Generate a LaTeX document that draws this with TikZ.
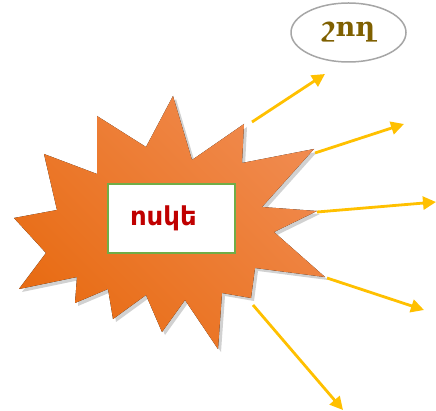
\documentclass[tikz,border=0pt]{standalone}
\usepackage{fontspec}
\newfontfamily\armsans{DejaVu Sans}
\newfontfamily\armserif{DejaVu Serif}
\usetikzlibrary{positioning,arrows.meta,shadows,shapes.geometric}
\definecolor{burstlight}{HTML}{F08A4E}
\definecolor{burstmid}{HTML}{F27C28}
\definecolor{burstdark}{HTML}{E86C14}
\definecolor{rayyellow}{HTML}{FFC000}
\definecolor{boxgreen}{HTML}{70AD47}
\definecolor{goldred}{HTML}{C00000}
\definecolor{raybrown}{HTML}{7F6000}
\definecolor{ovalgrey}{HTML}{A6A6A6}
\tikzset{
  beam/.style={draw=rayyellow,line width=2.8pt,
               -{Triangle[length=13pt,width=13pt]}},
  corebox/.style={draw=boxgreen,line width=1.6pt,fill=white,
                  minimum width=127pt,minimum height=69pt,
                  inner xsep=22pt,text width=83pt,align=left,
                  font=\armsans\fontsize{26}{30}\selectfont\bfseries,text=goldred},
  wordoval/.style={ellipse,draw=ovalgrey,line width=1.5pt,fill=white,
                   minimum width=115pt,minimum height=59pt,inner sep=0pt,
                   font=\armserif\fontsize{27}{30}\selectfont\bfseries,text=raybrown},
}

\begin{document}
\begin{tikzpicture}[x=1pt,y=-1pt]
\useasboundingbox (0,0) rectangle (436,411);

% star burst
\fill[top color=burstlight,middle color=burstmid,bottom color=burstdark,
      shading angle=-45,
      drop shadow={shadow xshift=3pt,shadow yshift=-3pt,opacity=0.3,fill=black!60}]
  (173,96) -- (192,160) -- (244,124) -- (242,163) -- (314,149) -- (262,207)
  -- (317,211) -- (274,232) -- (325,277) -- (255,268) -- (251,298) -- (222,293)
  -- (218,349) -- (185,300) -- (162,332) -- (146,295) -- (113,319) -- (108,289)
  -- (75,303) -- (77,277) -- (19,289) -- (46,253) -- (14,218) -- (57,210)
  -- (44,154) -- (97,174) -- (97,116) -- (146,147) -- cycle;

\node[corebox] (core) at (171.5,218.5) {ոսկե};
\node[wordoval] (ray) at (348.5,32.5) {\raisebox{-4pt}{շող}\hspace{10pt}};

% ray ends
\coordinate (s1) at (252,122);  \coordinate (t1) at (325,74);
\coordinate (s2) at (315,153);  \coordinate (t2) at (404,124);
\coordinate (s3) at (317,212);  \coordinate (t3) at (436,202);
\coordinate (s4) at (327,278);  \coordinate (t4) at (424,310);
\coordinate (s5) at (253,305);  \coordinate (t5) at (343,410);

\foreach \i in {1,...,5}
  \draw[beam] (s\i) -- (t\i);
\end{tikzpicture}
\end{document}
